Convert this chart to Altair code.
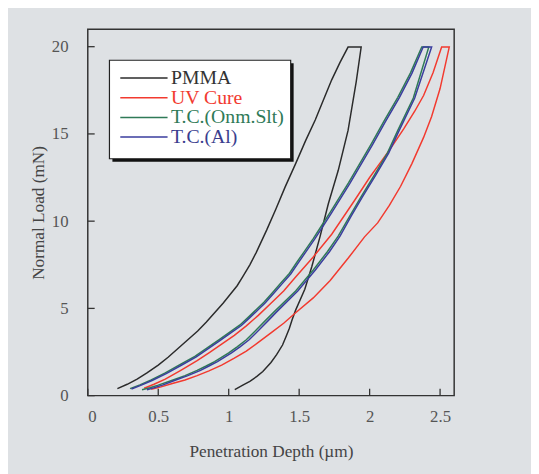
import altair as alt
import pandas as pd

# ---------------- data ----------------
series_names = ["PMMA", "UV Cure", "T.C.(Onm.Slt)", "T.C.(Al)"]
series_colors = ["#2b2b2b", "#f23a2f", "#2f7a57", "#3a3d9e"]
label_colors = ["#333333", "#f23a2f", "#2f7a57", "#3a3d8e"]

pmma_x = [0.21, 0.28, 0.35, 0.42, 0.50, 0.57, 0.64, 0.71, 0.78, 0.84, 0.90, 0.96, 1.01, 1.06,
          1.10, 1.15, 1.195, 1.27, 1.335, 1.40, 1.475, 1.545, 1.614, 1.68, 1.731, 1.79, 1.847,
          1.94, 1.905, 1.847, 1.777, 1.707, 1.649, 1.59, 1.54, 1.475, 1.45, 1.43, 1.405, 1.382,
          1.34, 1.30, 1.242, 1.20, 1.15, 1.10, 1.043]
pmma_y = [0.40, 0.65, 0.95, 1.3, 1.75, 2.2, 2.7, 3.2, 3.7, 4.2, 4.75, 5.3, 5.8, 6.3,
          6.82, 7.5, 8.2, 9.5, 10.7, 11.95, 13.3, 14.6, 15.8, 17.1, 18.1, 19.1, 19.98,
          19.98, 18.0, 15.2, 12.9, 11.0, 9.14, 7.4, 6.1, 4.9, 4.35, 3.85, 3.35, 2.9,
          2.35, 1.9, 1.38, 1.1, 0.82, 0.6, 0.34]

uv_x = [0.40, 0.47, 0.55, 0.66, 0.776, 0.86, 0.95, 1.04, 1.125, 1.21, 1.30, 1.39, 1.475, 1.60,
        1.731, 1.894, 2.0, 2.08, 2.16, 2.243, 2.32, 2.383, 2.45, 2.511, 2.565, 2.5, 2.44, 2.383,
        2.30, 2.22, 2.14, 2.057, 1.964, 1.85, 1.72, 1.60, 1.475, 1.39, 1.30, 1.21, 1.125, 1.04,
        0.95, 0.86, 0.776, 0.69, 0.60, 0.52, 0.45]
uv_y = [0.42, 0.65, 0.95, 1.45, 2.0, 2.45, 2.95, 3.45, 4.0, 4.6, 5.3, 6.0, 6.8, 7.95,
        9.25, 11.2, 12.5, 13.4, 14.3, 15.3, 16.3, 17.2, 18.5, 19.98, 19.98, 17.6, 16.0, 14.8,
        13.3, 12.0, 10.9, 9.9, 9.1, 7.9, 6.6, 5.6, 4.75, 4.15, 3.6, 3.05, 2.55, 2.15,
        1.75, 1.42, 1.15, 0.9, 0.7, 0.5, 0.36]

tco_x = [0.30, 0.37, 0.45, 0.55, 0.66, 0.76, 0.85, 0.93, 1.01, 1.08, 1.14, 1.25, 1.31, 1.37,
         1.43, 1.48, 1.54, 1.60, 1.66, 1.72, 1.785, 1.85, 1.93, 2.01, 2.10, 2.20, 2.29, 2.37,
         2.42, 2.31, 2.20, 2.126, 2.03, 1.94, 1.86, 1.777, 1.70, 1.60, 1.475, 1.322, 1.26, 1.20,
         1.125, 1.06, 1.0, 0.90, 0.84, 0.776, 0.69, 0.60, 0.50, 0.44, 0.385]
tco_y = [0.40, 0.62, 0.9, 1.3, 1.8, 2.25, 2.75, 3.2, 3.65, 4.05, 4.5, 5.35, 5.9, 6.45,
         7.0, 7.6, 8.3, 9.0, 9.75, 10.5, 11.35, 12.2, 13.3, 14.4, 15.7, 17.1, 18.5, 19.98,
         19.98, 17.06, 15.2, 13.9, 12.6, 11.4, 10.3, 9.14, 8.25, 7.2, 6.0, 4.8, 4.3, 3.8,
         3.2, 2.8, 2.45, 1.95, 1.7, 1.45, 1.15, 0.88, 0.6, 0.45, 0.34]

tca_x = [0.31, 0.38, 0.46, 0.56, 0.67, 0.77, 0.86, 0.94, 1.02, 1.09, 1.15, 1.26, 1.32, 1.38,
         1.44, 1.49, 1.55, 1.61, 1.67, 1.73, 1.795, 1.86, 1.94, 2.02, 2.11, 2.21, 2.30, 2.38,
         2.44, 2.32, 2.21, 2.135, 2.04, 1.95, 1.87, 1.79, 1.715, 1.615, 1.49, 1.34, 1.28, 1.22,
         1.145, 1.08, 1.02, 0.92, 0.86, 0.80, 0.71, 0.62, 0.53, 0.47, 0.42]
tca_y = [0.38, 0.6, 0.88, 1.28, 1.77, 2.22, 2.72, 3.17, 3.62, 4.02, 4.47, 5.32, 5.87, 6.42,
         6.97, 7.57, 8.27, 8.97, 9.72, 10.47, 11.32, 12.17, 13.27, 14.37, 15.67, 17.07, 18.47, 19.98,
         19.98, 17.06, 15.2, 13.9, 12.6, 11.4, 10.3, 9.14, 8.25, 7.2, 6.0, 4.8, 4.3, 3.8,
         3.2, 2.8, 2.45, 1.95, 1.7, 1.45, 1.15, 0.88, 0.6, 0.45, 0.34]

x_ticks = [0, 0.5, 1, 1.5, 2, 2.5]
y_ticks = [0, 5, 10, 15, 20]

# ---------------- build table ----------------
rows = []
for name, xs, ys in zip(series_names, [pmma_x, uv_x, tco_x, tca_x], [pmma_y, uv_y, tco_y, tca_y]):
    for i, (a, b) in enumerate(zip(xs, ys)):
        rows.append({"series": name, "depth": a, "load": b, "idx": i})
df = pd.DataFrame(rows)

W, H = 372, 372
FONT = "Liberation Serif"
BG = "#dee1e4"

color_expr = " : ".join(
    f"datum.value === '{n}' ? '{c}'" for n, c in zip(series_names[:-1], label_colors[:-1])
) + f" : '{label_colors[-1]}'"

xscale = alt.Scale(domain=[0, 2.6], nice=False, zero=False)
yscale = alt.Scale(domain=[0, 21], nice=False, zero=False)

x_axis = alt.Axis(title="Penetration Depth (\u00b5m)", values=x_ticks, format="~g",
                  ticks=False, tickSize=0, domain=False, grid=False,
                  labelPadding=13, labelFont=FONT, labelFontSize=17,
                  labelColor="#555555", titleFont=FONT, titleFontSize=17.5,
                  titleColor="#444444", titleFontWeight="normal",
                  titleX=186, titleY=57, titleBaseline="middle")
y_axis = alt.Axis(title="Normal Load (mN)", values=y_ticks, format="~g",
                  ticks=False, tickSize=0, domain=False, grid=False,
                  labelPadding=20, labelFont=FONT, labelFontSize=17,
                  labelColor="#555555", titleFont=FONT, titleFontSize=17.5,
                  titleColor="#444444", titleFontWeight="normal",
                  titleX=-50, titleY=186, titleAngle=270, titleAlign="center",
                  titleBaseline="middle")

one = pd.DataFrame({"a": [0]})
# legend frame (decoration): shadow + white box
shadow = alt.Chart(one).mark_rect(color="#111111").encode(
    x=alt.value(25), x2=alt.value(209), y=alt.value(34.5), y2=alt.value(134.5)
)
box = alt.Chart(one).mark_rect(fill="white", stroke="#222222", strokeWidth=1.2).encode(
    x=alt.value(22), x2=alt.value(206), y=alt.value(31.5), y2=alt.value(131.5)
)

lines = alt.Chart(df).mark_line(strokeWidth=1.5, clip=True).encode(
    x=alt.X("depth:Q", scale=xscale, axis=x_axis),
    y=alt.Y("load:Q", scale=yscale, axis=y_axis),
    color=alt.Color("series:N",
                    scale=alt.Scale(domain=series_names, range=series_colors),
                    sort=series_names,
                    legend=alt.Legend(title=None, orient="none", legendX=22, legendY=30.5,
                                      padding=9, rowPadding=0,
                                      symbolType="M0,0L24,0", symbolSize=16,
                                      symbolStrokeWidth=1.5, symbolOffset=-8,
                                      labelOffset=41.5, labelFont=FONT, labelFontSize=20,
                                      labelColor=alt.ExprRef(color_expr), labelLimit=300)),
    order="idx:Q",
)

xt = alt.Chart(pd.DataFrame({"v": x_ticks})).mark_rule(color="#333333", strokeWidth=1.3).encode(
    x=alt.X("v:Q", scale=xscale, axis=x_axis), y=alt.value(H), y2=alt.value(H - 7)
)
yt = alt.Chart(pd.DataFrame({"v": y_ticks})).mark_rule(color="#333333", strokeWidth=1.3).encode(
    y=alt.Y("v:Q", scale=yscale, axis=y_axis), x=alt.value(0), x2=alt.value(7)
)

chart = alt.layer(shadow, box, lines, xt, yt).properties(
    width=W, height=H,
    background=BG,
    autosize=alt.AutoSizeParams(type="none"),
    padding={"left": 81, "top": 18, "right": 78, "bottom": 76},
).configure_view(
    stroke="#333333", strokeWidth=1.5, fill=BG
)

chart.save("out.html", embed_options={"renderer": "svg", "actions": False})
